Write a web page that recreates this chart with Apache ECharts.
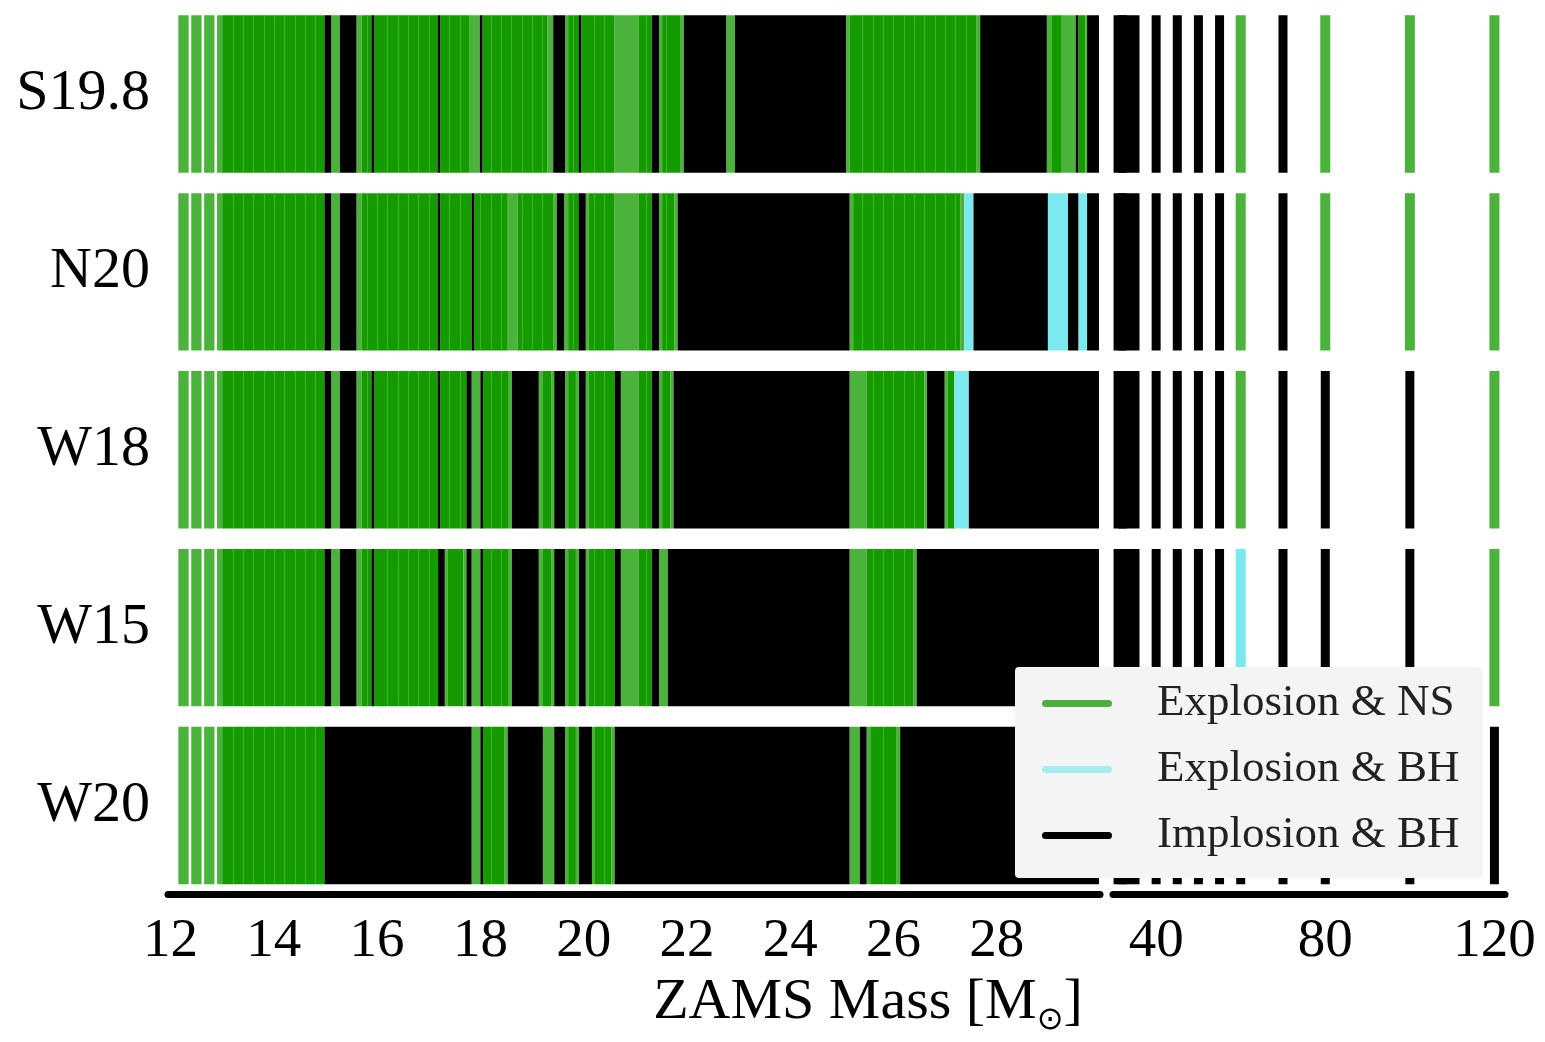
<!DOCTYPE html>
<html>
<head>
<meta charset="utf-8">
<script src="https://cdn.jsdelivr.net/npm/echarts@6/dist/echarts.min.js"></script>
<style>
html,body{margin:0;padding:0;background:#fff;}
#chart{width:1545px;height:1042px;}
</style>
</head>
<body>
<div id="chart"></div>
<script>
// ---- data ----
const rowNames = ['S19.8', 'N20', 'W18', 'W15', 'W20'];
const legendNames = ['Explosion & NS', 'Explosion & BH', 'Implosion & BH'];
const lowTicks = [12, 14, 16, 18, 20, 22, 24, 26, 28];
const highTicks = [40, 80, 120];

// Low-mass panel: bands [startMass, endMass, code]
// N = Explosion & NS (overlapping models), n = Explosion & NS (isolated model),
// C = Explosion & BH, B = Implosion & BH
const bandsS198 = [
  [12.15,12.35,'n'],[12.40,12.60,'n'],[12.65,12.85,'n'],[12.90,13.00,'n'],[13.00,14.98,'N'],
  [14.98,15.11,'B'],[15.11,15.28,'n'],[15.28,15.60,'B'],
  [15.60,15.70,'n'],[15.70,15.89,'N'],[15.89,15.94,'B'],[15.94,17.17,'N'],[17.17,17.22,'B'],
  [17.22,17.78,'N'],[17.78,17.99,'n'],[17.99,18.04,'B'],[18.04,19.30,'N'],[19.30,19.41,'n'],
  [19.41,19.64,'B'],[19.64,19.70,'n'],[19.70,19.90,'N'],[19.90,19.95,'B'],[19.95,20.60,'N'],
  [20.60,21.06,'n'],[21.06,21.32,'N'],[21.32,21.46,'B'],[21.46,21.52,'n'],[21.52,21.88,'N'],
  [21.88,21.94,'n'],[21.94,22.76,'B'],[22.76,22.93,'n'],[22.93,25.08,'B'],[25.08,25.15,'n'],
  [25.15,27.60,'N'],[27.60,27.68,'n'],[27.68,28.97,'B'],[28.97,29.07,'n'],[29.07,29.26,'N'],
  [29.26,29.53,'n'],[29.53,29.58,'B'],[29.58,29.72,'N'],[29.72,29.75,'n'],[29.75,29.98,'B']
];
const bandsN20 = [
  [12.15,12.35,'n'],[12.40,12.60,'n'],[12.65,12.85,'n'],[12.90,13.00,'n'],[13.00,14.98,'N'],
  [14.98,15.11,'B'],[15.11,15.28,'n'],[15.28,15.60,'B'],
  [15.60,15.70,'n'],[15.70,17.17,'N'],[17.17,17.22,'B'],[17.22,17.83,'N'],[17.83,17.88,'B'],
  [17.88,18.53,'N'],[18.53,18.72,'n'],[18.72,19.42,'N'],[19.42,19.48,'n'],[19.48,19.62,'B'],
  [19.62,19.70,'n'],[19.70,19.90,'N'],[19.90,20.04,'B'],[20.04,20.10,'n'],[20.10,20.60,'N'],
  [20.60,21.06,'n'],[21.06,21.32,'N'],[21.32,21.46,'B'],[21.46,21.52,'n'],[21.52,21.76,'N'],
  [21.76,21.82,'n'],[21.82,25.15,'B'],[25.15,25.22,'n'],[25.22,27.30,'N'],[27.30,27.37,'n'],
  [27.37,27.55,'C'],[27.55,28.99,'B'],[28.99,29.38,'C'],[29.38,29.58,'B'],[29.58,29.75,'C'],
  [29.75,29.98,'B']
];
const bandsW18 = [
  [12.15,12.35,'n'],[12.40,12.60,'n'],[12.65,12.85,'n'],[12.90,13.00,'n'],[13.00,14.98,'N'],
  [14.98,15.11,'B'],[15.11,15.28,'n'],[15.28,15.60,'B'],
  [15.60,15.70,'n'],[15.70,15.89,'N'],[15.89,15.94,'B'],[15.94,17.17,'N'],[17.17,17.22,'B'],
  [17.22,17.73,'N'],[17.73,17.83,'B'],[17.83,18.00,'n'],[18.00,18.05,'B'],[18.05,18.55,'N'],
  [18.55,18.61,'n'],[18.61,19.13,'B'],[19.13,19.20,'n'],[19.20,19.38,'N'],[19.38,19.43,'n'],
  [19.43,19.64,'B'],[19.64,19.70,'n'],[19.70,19.85,'N'],[19.85,19.91,'n'],[19.91,20.04,'B'],
  [20.04,20.10,'n'],[20.10,20.60,'N'],[20.60,20.72,'B'],[20.72,21.06,'n'],[21.06,21.32,'N'],
  [21.32,21.46,'B'],[21.46,21.52,'n'],[21.52,21.68,'N'],[21.68,21.74,'n'],[21.74,25.15,'B'],
  [25.15,25.48,'n'],[25.48,26.60,'N'],[26.60,26.65,'n'],[26.65,26.99,'B'],[26.99,27.05,'n'],
  [27.05,27.18,'N'],[27.18,27.46,'C'],[27.46,29.98,'B']
];
const bandsW15 = [
  [12.15,12.35,'n'],[12.40,12.60,'n'],[12.65,12.85,'n'],[12.90,13.00,'n'],[13.00,14.98,'N'],
  [14.98,15.11,'B'],[15.11,15.28,'n'],[15.28,15.60,'B'],
  [15.60,15.70,'n'],[15.70,15.89,'N'],[15.89,15.94,'B'],[15.94,17.18,'N'],[17.18,17.31,'B'],
  [17.31,17.37,'n'],[17.37,17.67,'N'],[17.67,17.73,'n'],[17.73,17.83,'B'],[17.83,18.00,'n'],
  [18.00,18.05,'B'],[18.05,18.55,'N'],[18.55,18.61,'n'],[18.61,19.13,'B'],[19.13,19.20,'n'],
  [19.20,19.38,'N'],[19.38,19.43,'n'],[19.43,19.64,'B'],[19.64,19.70,'n'],[19.70,19.85,'N'],
  [19.85,19.91,'n'],[19.91,20.04,'B'],[20.04,20.10,'n'],[20.10,20.60,'N'],[20.60,20.72,'B'],
  [20.72,21.06,'n'],[21.06,21.32,'N'],[21.32,21.46,'B'],[21.46,21.63,'n'],[21.63,25.15,'B'],
  [25.15,25.48,'n'],[25.48,26.38,'N'],[26.38,26.45,'n'],[26.45,29.98,'B']
];
const bandsW20 = [
  [12.15,12.35,'n'],[12.40,12.60,'n'],[12.65,12.85,'n'],[12.90,13.00,'n'],[13.00,14.98,'N'],
  [14.98,17.83,'B'],[17.83,18.00,'n'],[18.00,18.05,'B'],[18.05,18.47,'N'],[18.47,18.53,'n'],
  [18.53,19.21,'B'],[19.21,19.43,'n'],[19.43,19.64,'B'],[19.64,19.70,'n'],[19.70,19.85,'N'],
  [19.85,19.91,'n'],[19.91,20.16,'B'],[20.16,20.22,'n'],[20.22,20.54,'N'],[20.54,20.60,'n'],
  [20.60,25.15,'B'],[25.15,25.35,'n'],[25.35,25.48,'B'],[25.48,25.55,'n'],[25.55,26.05,'N'],
  [26.05,26.13,'n'],[26.13,29.98,'B']
];

// High-mass panel: model masses and outcome per row
const heavyMasses = [31, 32, 33, 35, 40, 45, 50, 55, 60, 70, 80, 100, 120];
const heavyS198 = ['B','B','B','B','B','B','B','B','N','B','N','N','N'];
const heavyN20  = ['B','B','B','B','B','B','B','B','N','B','N','N','N'];
const heavyW18  = ['B','B','B','B','B','B','B','B','N','B','B','B','N'];
const heavyW15  = ['B','B','B','B','B','B','B','B','C','B','B','B','N'];
const heavyW20  = ['B','B','B','B','B','B','B','B','B','B','B','B','B'];

// ---- build ----
const lowBands = [bandsS198, bandsN20, bandsW18, bandsW15, bandsW20];
const heavyRows = [heavyS198, heavyN20, heavyW18, heavyW15, heavyW20];

const FONT = '"Liberation Serif", "DejaVu Serif", serif';
const COL = { N: '#149b00', n: '#4bb23c', C: '#7beaf0', B: '#000000' };
const CODE_NUM = { N: 0, n: 1, C: 2, B: 3 };
const NUM_COL = [COL.N, COL.n, COL.C, COL.B];
const outcomeOf = { N: 0, n: 0, C: 1, B: 2 };
const legendColors = ['#4caf3c', '#a6ecf0', '#000000'];
const BAND = 0.885;

function lowData(outIdx) {
  const out = [];
  lowBands.forEach((bands, r) => {
    bands.forEach(b => {
      if (outcomeOf[b[2]] === outIdx) out.push([r, b[0], b[1], CODE_NUM[b[2]]]);
    });
  });
  return out;
}
function highData(outIdx) {
  const out = [];
  heavyRows.forEach((codes, r) => {
    codes.forEach((c, i) => {
      if (outcomeOf[c] === outIdx) out.push([r, heavyMasses[i], CODE_NUM[c]]);
    });
  });
  return out;
}

function renderLow(params, api) {
  const r = api.value(0);
  const s = api.value(1), e = api.value(2), code = api.value(3);
  const p0 = api.coord([s, r]);
  const p1 = api.coord([e, r]);
  const h = api.size([0, 1])[1] * BAND;
  const y0 = p0[1] - h / 2;
  const children = [{
    type: 'rect',
    shape: { x: p0[0], y: y0, width: p1[0] - p0[0], height: h },
    style: { fill: NUM_COL[code] }
  }];
  if (code === 0) {
    // faint edges of the individual overlapping model strips
    for (let k = Math.ceil((s + 0.08) * 5); k / 5 < e - 0.08; k++) {
      const x = Math.round(api.coord([k / 5, r])[0]) + 0.5;
      children.push({
        type: 'line',
        shape: { x1: x, y1: y0, x2: x, y2: y0 + h },
        style: { stroke: '#5cc048', lineWidth: 1.2, opacity: 0.6 }
      });
    }
  }
  return { type: 'group', children: children };
}
function renderHigh(params, api) {
  const r = api.value(0);
  const p = api.coord([api.value(1), r]);
  const code = api.value(2);
  const w = code === 3 ? 9 : 10;
  const h = api.size([0, 1])[1] * BAND;
  return {
    type: 'rect',
    shape: { x: p[0] - w / 2, y: p[1] - h / 2, width: w, height: h },
    style: { fill: code === 0 ? COL.n : NUM_COL[code] }
  };
}

const series = [];
legendNames.forEach((name, k) => {
  series.push({
    type: 'custom', name: name, xAxisIndex: 0, yAxisIndex: 0,
    renderItem: renderLow, itemStyle: { color: legendColors[k] },
    encode: { x: [1, 2], y: 0 }, data: lowData(k), clip: true
  });
  series.push({
    type: 'custom', name: name, xAxisIndex: 1, yAxisIndex: 1,
    renderItem: renderHigh, itemStyle: { color: legendColors[k] },
    encode: { x: 1, y: 0 }, data: highData(k), clip: false
  });
});

const axisLineStyle = { show: true, lineStyle: { color: '#000', width: 7 } };
const xLabel = { color: '#000', fontFamily: FONT, fontSize: 55, margin: 20 };

const chart = echarts.init(document.getElementById('chart'), null, { renderer: 'canvas' });
chart.setOption({
  animation: false,
  backgroundColor: '#ffffff',
  grid: [
    { left: 168, top: 5, width: 932, height: 889.5 },
    { left: 1113, top: 5, width: 392, height: 889.5 }
  ],
  xAxis: [
    { gridIndex: 0, type: 'value', min: 11.95, max: 30.0,
      axisLine: axisLineStyle, axisTick: { show: false }, splitLine: { show: false },
      axisLabel: Object.assign({ customValues: lowTicks }, xLabel) },
    { gridIndex: 1, type: 'value', min: 29.8, max: 122.5,
      axisLine: axisLineStyle, axisTick: { show: false }, splitLine: { show: false },
      axisLabel: Object.assign({ customValues: highTicks }, xLabel) }
  ],
  yAxis: [
    { gridIndex: 0, type: 'category', data: rowNames, inverse: true,
      axisLine: { show: false }, axisTick: { show: false }, splitLine: { show: false },
      axisLabel: { color: '#000', fontFamily: FONT, fontSize: 58, margin: 18 } },
    { gridIndex: 1, type: 'category', data: rowNames, inverse: true,
      axisLine: { show: false }, axisTick: { show: false }, splitLine: { show: false },
      axisLabel: { show: false } }
  ],
  legend: {
    orient: 'vertical', left: 1015, top: 667, width: 468,
    backgroundColor: '#f4f4f4', borderRadius: 4,
    padding: [14, 23, 20, 27], itemGap: 21,
    itemWidth: 70, itemHeight: 7,
    icon: 'path://M3.5,0 H66.5 A3.5,3.5 0 0 1 66.5,7 H3.5 A3.5,3.5 0 0 1 3.5,0 Z',
    data: legendNames.map((n, k) => ({ name: n, itemStyle: { color: legendColors[k] } })),
    textStyle: { color: '#222', fontFamily: FONT, fontSize: 45, padding: [0, 0, 0, 40] },
    selectedMode: false
  },
  graphic: [{
    type: 'text', x: 868, y: 1003,
    style: {
      text: '{m|ZAMS Mass [M}{s|⊙}{m|]}',
      rich: {
        m: { fontFamily: FONT, fontSize: 58, fill: '#000' },
        s: { fontFamily: '"DejaVu Sans", sans-serif', fontSize: 32, fill: '#000', padding: [36, 0, 0, 0] }
      },
      align: 'center', verticalAlign: 'middle', textAlign: 'center', textVerticalAlign: 'middle'
    }
  }],
  series: series
});
</script>
</body>
</html>
